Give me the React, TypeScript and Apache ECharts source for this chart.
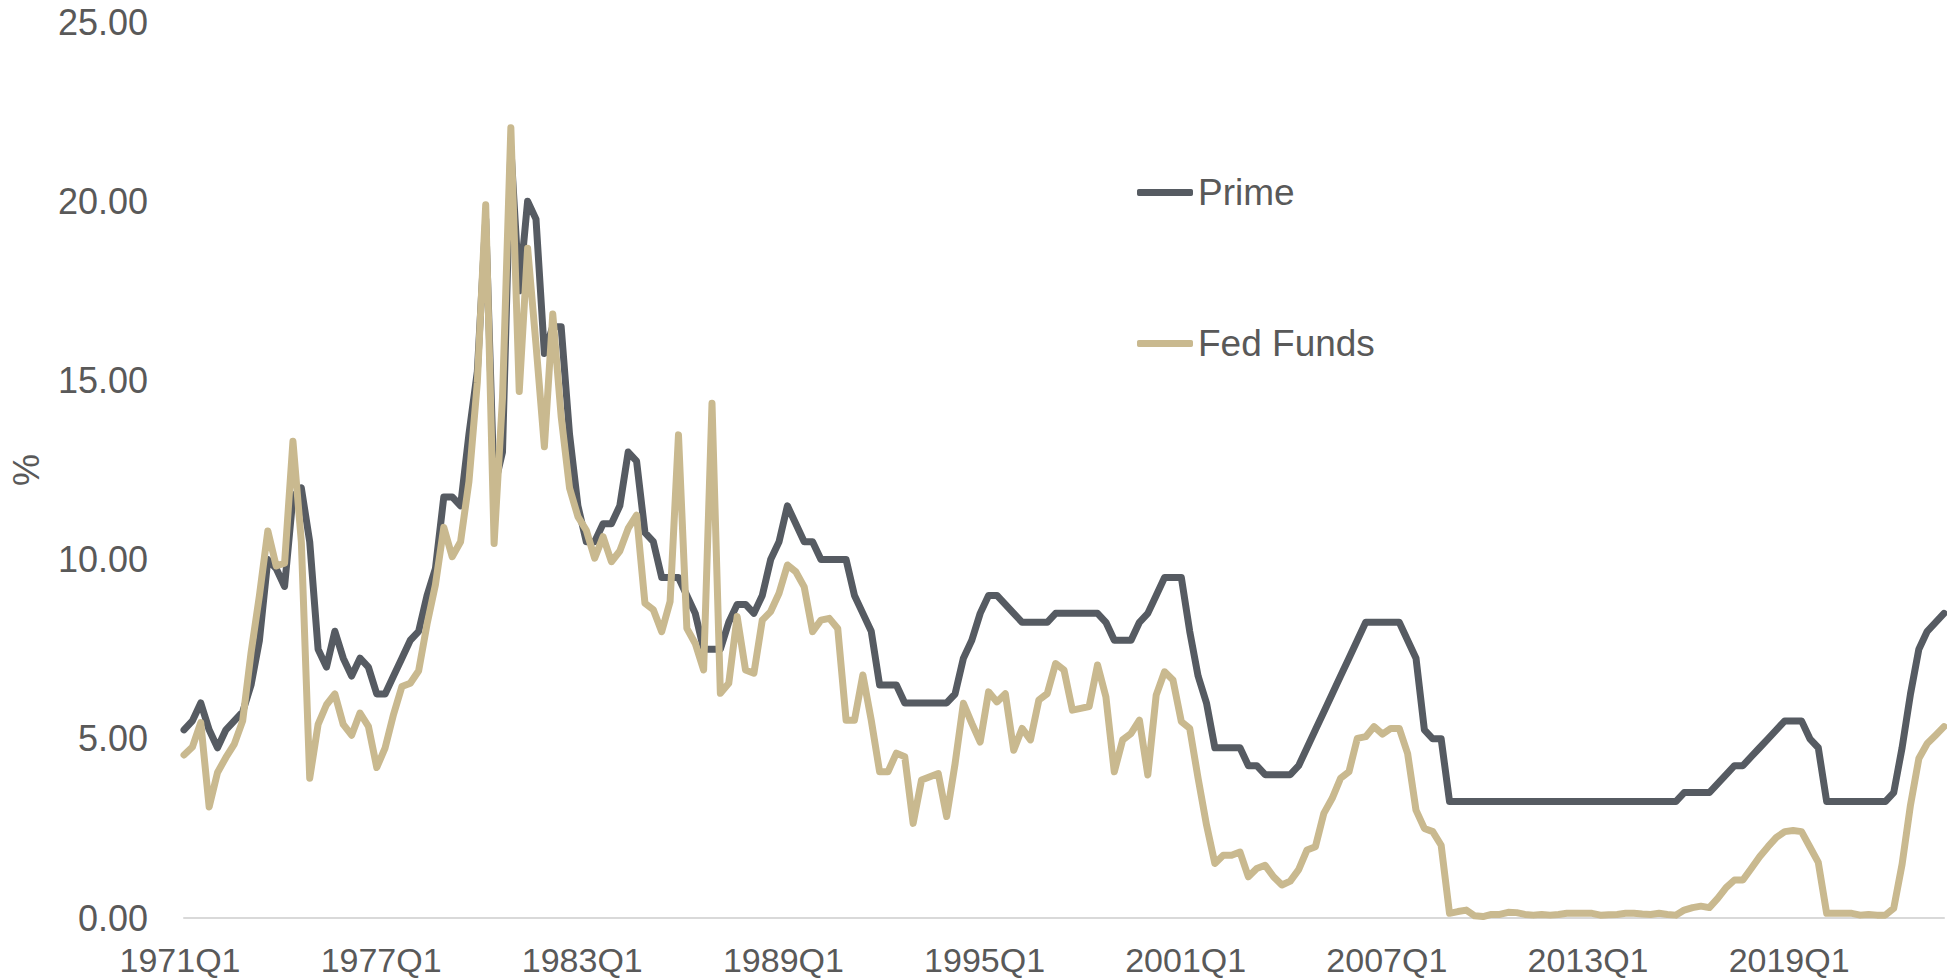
import React, { useEffect, useRef } from "react";
import * as echarts from "echarts";

// Quarterly categories 1971Q1 .. 2023Q3
const firstYear = 1971;
const lastYear = 2023;
const lastQuarter = 3;
const quarters: string[] = [];
for (let y = firstYear; y <= lastYear; y++) {
  for (let q = 1; q <= 4; q++) {
    if (y === lastYear && q > lastQuarter) break;
    quarters.push(`${y}Q${q}`);
  }
}

// Prime rate, end of quarter (%)
const prime: number[] = [
  5.25, 5.5, 6.0, 5.25, // 1971
  4.75, 5.25, 5.5, 5.75, // 1972
  6.5, 7.75, 10.0, 9.75, // 1973
  9.25, 11.75, 12.0, 10.5, // 1974
  7.5, 7.0, 8.0, 7.25, // 1975
  6.75, 7.25, 7.0, 6.25, // 1976
  6.25, 6.75, 7.25, 7.75, // 1977
  8.0, 9.0, 9.75, 11.75, // 1978
  11.75, 11.5, 13.5, 15.25, // 1979
  19.5, 12.0, 13.0, 21.5, // 1980
  17.5, 20.0, 19.5, 15.75, // 1981
  16.5, 16.5, 13.5, 11.5, // 1982
  10.5, 10.5, 11.0, 11.0, // 1983
  11.5, 13.0, 12.75, 10.75, // 1984
  10.5, 9.5, 9.5, 9.5, // 1985
  9.0, 8.5, 7.5, 7.5, // 1986
  7.5, 8.25, 8.75, 8.75, // 1987
  8.5, 9.0, 10.0, 10.5, // 1988
  11.5, 11.0, 10.5, 10.5, // 1989
  10.0, 10.0, 10.0, 10.0, // 1990
  9.0, 8.5, 8.0, 6.5, // 1991
  6.5, 6.5, 6.0, 6.0, // 1992
  6.0, 6.0, 6.0, 6.0, // 1993
  6.25, 7.25, 7.75, 8.5, // 1994
  9.0, 9.0, 8.75, 8.5, // 1995
  8.25, 8.25, 8.25, 8.25, // 1996
  8.5, 8.5, 8.5, 8.5, // 1997
  8.5, 8.5, 8.25, 7.75, // 1998
  7.75, 7.75, 8.25, 8.5, // 1999
  9.0, 9.5, 9.5, 9.5, // 2000
  8.0, 6.75, 6.0, 4.75, // 2001
  4.75, 4.75, 4.75, 4.25, // 2002
  4.25, 4.0, 4.0, 4.0, // 2003
  4.0, 4.25, 4.75, 5.25, // 2004
  5.75, 6.25, 6.75, 7.25, // 2005
  7.75, 8.25, 8.25, 8.25, // 2006
  8.25, 8.25, 7.75, 7.25, // 2007
  5.25, 5.0, 5.0, 3.25, // 2008
  3.25, 3.25, 3.25, 3.25, // 2009
  3.25, 3.25, 3.25, 3.25, // 2010
  3.25, 3.25, 3.25, 3.25, // 2011
  3.25, 3.25, 3.25, 3.25, // 2012
  3.25, 3.25, 3.25, 3.25, // 2013
  3.25, 3.25, 3.25, 3.25, // 2014
  3.25, 3.25, 3.25, 3.5, // 2015
  3.5, 3.5, 3.5, 3.75, // 2016
  4.0, 4.25, 4.25, 4.5, // 2017
  4.75, 5.0, 5.25, 5.5, // 2018
  5.5, 5.5, 5.0, 4.75, // 2019
  3.25, 3.25, 3.25, 3.25, // 2020
  3.25, 3.25, 3.25, 3.25, // 2021
  3.5, 4.75, 6.25, 7.5, // 2022
  8.0, 8.25, 8.5, // 2023
];

// Fed Funds rate, end of quarter (%)
const fedFunds: number[] = [
  4.55, 4.77, 5.45, 3.1, // 1971
  4.06, 4.48, 4.85, 5.5, // 1972
  7.4, 9.0, 10.8, 9.82, // 1973
  9.9, 13.3, 10.5, 3.9, // 1974
  5.4, 5.95, 6.25, 5.4, // 1975
  5.1, 5.72, 5.35, 4.2, // 1976
  4.75, 5.68, 6.46, 6.55, // 1977
  6.9, 8.2, 9.3, 10.9, // 1978
  10.08, 10.5, 12.18, 14.95, // 1979
  19.9, 10.45, 14.5, 22.05, // 1980
  14.69, 18.69, 16.0, 13.15, // 1981
  16.85, 14.0, 12.0, 11.2, // 1982
  10.82, 10.04, 10.64, 9.94, // 1983
  10.24, 10.87, 11.24, 8.78, // 1984
  8.6, 7.99, 8.83, 13.48, // 1985
  8.08, 7.66, 6.92, 14.36, // 1986
  6.27, 6.55, 8.41, 6.92, // 1987
  6.83, 8.31, 8.55, 9.06, // 1988
  9.85, 9.66, 9.24, 7.99, // 1989
  8.31, 8.36, 8.08, 5.52, // 1990
  5.52, 6.78, 5.52, 4.08, // 1991
  4.08, 4.6, 4.5, 2.64, // 1992
  3.85, 3.94, 4.03, 2.83, // 1993
  4.3, 5.99, 5.43, 4.91, // 1994
  6.31, 6.03, 6.26, 4.68, // 1995
  5.29, 4.97, 6.08, 6.26, // 1996
  7.1, 6.92, 5.8, 5.85, // 1997
  5.9, 7.06, 6.17, 4.08, // 1998
  4.97, 5.15, 5.52, 3.99, // 1999
  6.22, 6.87, 6.64, 5.48, // 2000
  5.29, 3.9, 2.6, 1.52, // 2001
  1.75, 1.75, 1.84, 1.15, // 2002
  1.38, 1.47, 1.15, 0.92, // 2003
  1.03, 1.35, 1.9, 1.99, // 2004
  2.92, 3.34, 3.9, 4.08, // 2005
  5.01, 5.06, 5.34, 5.13, // 2006
  5.29, 5.29, 4.59, 3.01, // 2007
  2.5, 2.41, 2.03, 0.13, // 2008
  0.18, 0.22, 0.06, 0.04, // 2009
  0.1, 0.1, 0.16, 0.15, // 2010
  0.1, 0.08, 0.1, 0.08, // 2011
  0.1, 0.13, 0.13, 0.13, // 2012
  0.13, 0.08, 0.09, 0.1, // 2013
  0.13, 0.13, 0.11, 0.1, // 2014
  0.13, 0.1, 0.08, 0.22, // 2015
  0.29, 0.33, 0.29, 0.55, // 2016
  0.85, 1.06, 1.06, 1.38, // 2017
  1.71, 1.99, 2.25, 2.41, // 2018
  2.44, 2.41, 1.98, 1.55, // 2019
  0.13, 0.13, 0.13, 0.13, // 2020
  0.08, 0.1, 0.08, 0.08, // 2021
  0.27, 1.5, 3.15, 4.45, // 2022
  4.87, 5.1, 5.34, // 2023
];

const seriesNames = ["Prime", "Fed Funds"];
const seriesColors = ["#565b62", "#c9b98f"];
const yTicks = { min: 0, max: 25, interval: 5 };
const yAxisName = "%";

const FONT = "'Liberation Sans', Arial, Helvetica, sans-serif";
const TEXT = "#595959";

export default function App() {
  const ref = useRef<HTMLDivElement>(null);

  useEffect(() => {
    document.body.style.margin = "0";
    if (!ref.current) return;
    const chart = echarts.init(ref.current, undefined, { renderer: "svg" });
    chart.setOption({
      animation: false,
      backgroundColor: "#ffffff",
      textStyle: { fontFamily: FONT },
      grid: {
        left: 182,
        right: 3,
        top: 22,
        bottom: 62,
        containLabel: false,
      },
      legend: {
        orient: "vertical",
        left: 1132,
        top: 169,
        icon: "roundRect",
        itemWidth: 56,
        itemHeight: 7,
        itemGap: 114,
        data: seriesNames,
        textStyle: { color: TEXT, fontSize: 37, fontFamily: FONT, lineHeight: 36 },
      },
      xAxis: {
        type: "category",
        data: quarters,
        boundaryGap: false,
        axisTick: { show: false },
        axisLine: { lineStyle: { color: "#d9d9d9", width: 2 } },
        axisLabel: {
          interval: 23,
          color: TEXT,
          fontSize: 34,
          fontFamily: FONT,
          margin: 25,
          padding: [0, 8, 0, 0],
        },
        splitLine: { show: false },
      },
      yAxis: {
        type: "value",
        min: yTicks.min,
        max: yTicks.max,
        interval: yTicks.interval,
        name: yAxisName,
        nameLocation: "middle",
        nameRotate: 90,
        nameGap: 140,
        nameTextStyle: { color: TEXT, fontSize: 36, fontFamily: FONT },
        axisLine: { show: false },
        axisTick: { show: false },
        splitLine: { show: false },
        axisLabel: {
          color: TEXT,
          fontSize: 36,
          fontFamily: FONT,
          margin: 36,
          formatter: (v: number) => v.toFixed(2),
        },
      },
      series: [
        {
          name: seriesNames[0],
          type: "line",
          data: prime,
          symbol: "none",
          color: seriesColors[0],
          itemStyle: { color: seriesColors[0] },
          lineStyle: { width: 7, color: seriesColors[0], cap: "round", join: "round" },
        },
        {
          name: seriesNames[1],
          type: "line",
          data: fedFunds,
          symbol: "none",
          color: seriesColors[1],
          itemStyle: { color: seriesColors[1] },
          lineStyle: { width: 7, color: seriesColors[1], cap: "round", join: "round" },
        },
      ],
    });
    return () => chart.dispose();
  }, []);

  return <div ref={ref} style={{ width: 1947, height: 980, background: "#fff" }} />;
}
